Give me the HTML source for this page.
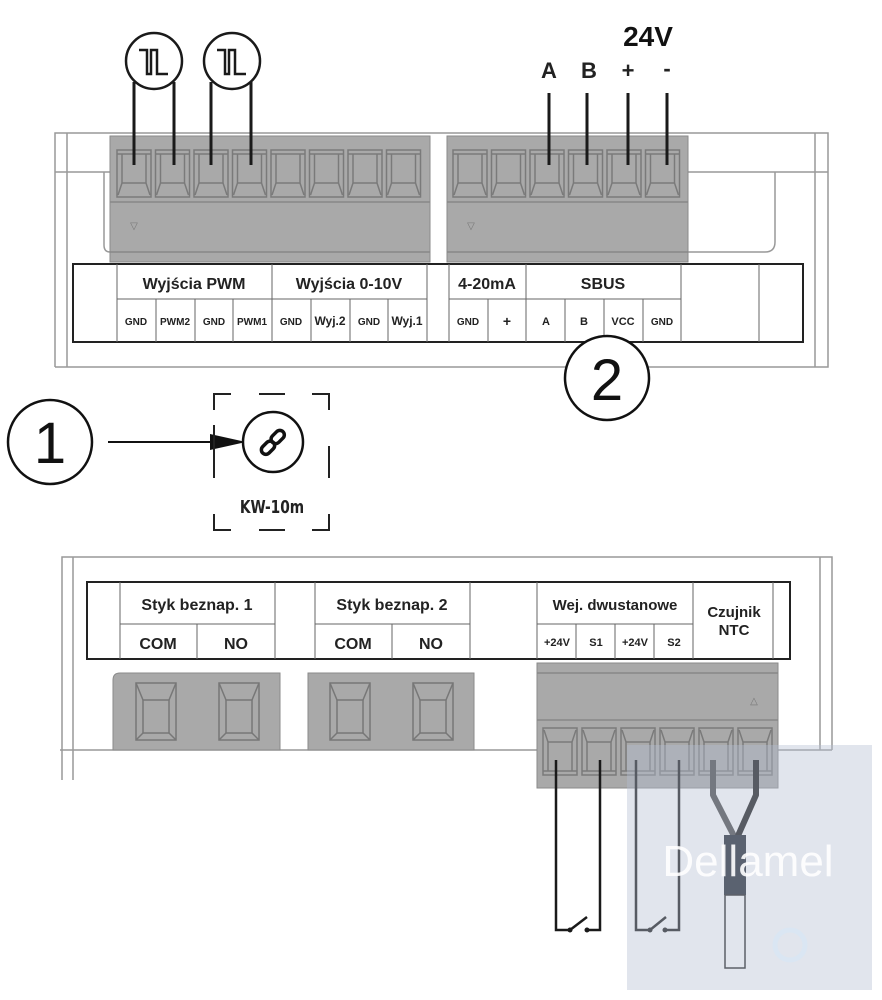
<!DOCTYPE html>
<html><head><meta charset="utf-8"><style>
body{margin:0;background:#fff;}
svg{display:block;}
text{font-family:"Liberation Sans",sans-serif;font-weight:bold;fill:#222;}
</style></head><body>
<svg width="882" height="1000" viewBox="0 0 882 1000" xmlns="http://www.w3.org/2000/svg">
<defs>
<g id="cell" fill="none" stroke="#7a7a7a" stroke-width="1.5">
<rect x="0" y="0" width="34" height="47"/>
<line x1="0" y1="4" x2="34" y2="4"/>
<line x1="5" y1="4" x2="5" y2="33"/><line x1="29" y1="4" x2="29" y2="33"/>
<line x1="5" y1="33" x2="29" y2="33"/>
<polyline points="5,33 1,45"/><polyline points="29,33 33,45"/>
</g>
<g id="relay" fill="none" stroke="#777" stroke-width="1.5">
<rect x="0" y="0" width="40" height="57"/>
<rect x="7" y="17" width="26" height="33"/>
<line x1="0" y1="0" x2="7" y2="17"/><line x1="40" y1="0" x2="33" y2="17"/>
<line x1="0" y1="57" x2="7" y2="50"/><line x1="40" y1="57" x2="33" y2="50"/>
</g>
</defs>

<!-- TOP HOUSING -->
<g fill="none" stroke="#999" stroke-width="1.5">
<path d="M55,367 V133 H828 V367 H55"/>
<line x1="67" y1="133" x2="67" y2="367"/>
<line x1="815" y1="133" x2="815" y2="367"/>
<line x1="55" y1="172" x2="110" y2="172"/>
<line x1="688" y1="172" x2="828" y2="172"/>
<path d="M104,172 V245 Q104,252 110,252"/>
<path d="M775,172 V242 Q775,252 765,252 H688"/>
</g>
<rect x="110" y="136" width="320" height="126" fill="#a9a9a9" stroke="#8a8a8a"/>
<line x1="110" y1="202" x2="430" y2="202" stroke="#888" stroke-width="1.5"/>
<line x1="110" y1="252" x2="430" y2="252" stroke="#888" stroke-width="1.5"/>
<text x="134" y="229" font-size="10" text-anchor="middle" style="fill:#777;font-weight:normal">▽</text>
<use href="#cell" x="117" y="150"/><use href="#cell" x="155.5" y="150"/><use href="#cell" x="194" y="150"/><use href="#cell" x="232.5" y="150"/>
<use href="#cell" x="271" y="150"/><use href="#cell" x="309.5" y="150"/><use href="#cell" x="348" y="150"/><use href="#cell" x="386.5" y="150"/>
<rect x="447" y="136" width="241" height="126" fill="#a9a9a9" stroke="#8a8a8a"/>
<line x1="447" y1="202" x2="688" y2="202" stroke="#888" stroke-width="1.5"/>
<line x1="447" y1="252" x2="688" y2="252" stroke="#888" stroke-width="1.5"/>
<text x="471" y="229" font-size="10" text-anchor="middle" style="fill:#777;font-weight:normal">▽</text>
<use href="#cell" x="453" y="150"/><use href="#cell" x="491.5" y="150"/><use href="#cell" x="530" y="150"/><use href="#cell" x="568.5" y="150"/><use href="#cell" x="607" y="150"/><use href="#cell" x="645.5" y="150"/>

<rect x="73" y="264" width="730" height="78" fill="#fff" stroke="#222" stroke-width="2"/>
<g stroke="#666" stroke-width="1">
<line x1="117" y1="264" x2="117" y2="342"/><line x1="272" y1="264" x2="272" y2="342"/><line x1="427" y1="264" x2="427" y2="342"/>
<line x1="449" y1="264" x2="449" y2="342"/><line x1="526" y1="264" x2="526" y2="342"/><line x1="681" y1="264" x2="681" y2="342"/><line x1="759" y1="264" x2="759" y2="342"/>
<line x1="117" y1="299" x2="427" y2="299"/><line x1="449" y1="299" x2="681" y2="299"/>
<line x1="156" y1="299" x2="156" y2="342"/><line x1="195" y1="299" x2="195" y2="342"/><line x1="233" y1="299" x2="233" y2="342"/>
<line x1="311" y1="299" x2="311" y2="342"/><line x1="350" y1="299" x2="350" y2="342"/><line x1="388" y1="299" x2="388" y2="342"/>
<line x1="488" y1="299" x2="488" y2="342"/><line x1="565" y1="299" x2="565" y2="342"/><line x1="604" y1="299" x2="604" y2="342"/><line x1="643" y1="299" x2="643" y2="342"/>
</g>
<g font-size="16" text-anchor="middle">
<text x="194" y="289">Wyjścia PWM</text><text x="349" y="289">Wyjścia 0-10V</text>
<text x="487" y="289">4-20mA</text><text x="603" y="289">SBUS</text>
</g>
<g font-size="10" text-anchor="middle">
<text x="136" y="325">GND</text><text x="175" y="325">PWM2</text><text x="214" y="325">GND</text><text x="252" y="325">PWM1</text>
<text x="291" y="325">GND</text><text x="330" y="325" font-size="12">Wyj.2</text><text x="369" y="325">GND</text><text x="407" y="325" font-size="12">Wyj.1</text>
<text x="468" y="325">GND</text><text x="507" y="326" font-size="14">+</text><text x="546" y="325" font-size="11">A</text><text x="584" y="325" font-size="11">B</text>
<text x="623" y="325" font-size="11">VCC</text><text x="662" y="325">GND</text>
</g>

<g stroke="#1a1a1a" stroke-width="3">
<line x1="134" y1="82" x2="134" y2="165"/><line x1="174" y1="82" x2="174" y2="165"/>
<line x1="211" y1="82" x2="211" y2="165"/><line x1="251" y1="82" x2="251" y2="165"/>
<line x1="549" y1="93" x2="549" y2="165"/><line x1="587" y1="93" x2="587" y2="165"/>
<line x1="628" y1="93" x2="628" y2="165"/><line x1="667" y1="93" x2="667" y2="165"/>
</g>
<g fill="#fff" stroke="#1a1a1a" stroke-width="2.5">
<circle cx="154" cy="61" r="28"/><circle cx="232" cy="61" r="28"/>
</g>
<g fill="none" stroke="#1a1a1a" stroke-width="2.5">
<polyline points="139,50 147,50 147,74 151,74 151,50 157,50 157,74 168,74"/>
<polyline points="217,50 225,50 225,74 229,74 229,50 235,50 235,74 246,74"/>
</g>
<text x="648" y="46" font-size="28" text-anchor="middle" style="fill:#111">24V</text>
<g font-size="22" text-anchor="middle" style="fill:#111">
<text x="549" y="78">A</text><text x="589" y="78">B</text><text x="628" y="78">+</text><text x="667" y="76">-</text>
</g>

<circle cx="607" cy="378" r="42" fill="#fff" stroke="#111" stroke-width="2.5"/>
<text x="607" y="400" font-size="58" text-anchor="middle" style="font-weight:normal;fill:#111">2</text>

<circle cx="50" cy="442" r="42" fill="#fff" stroke="#111" stroke-width="2.5"/>
<text x="50" y="463" font-size="58" text-anchor="middle" style="font-weight:normal;fill:#111">1</text>
<line x1="108" y1="442" x2="222" y2="442" stroke="#111" stroke-width="2"/>
<polygon points="210,434 246,442 210,450" fill="#111"/>
<g stroke="#222" stroke-width="2" fill="none">
<path d="M214,410 V394 H231"/><line x1="259" y1="394" x2="285" y2="394"/><path d="M312,394 H329 V410"/>
<line x1="214" y1="425" x2="214" y2="478"/><line x1="329" y1="446" x2="329" y2="478"/>
<path d="M214,514 V530 H231"/><line x1="259" y1="530" x2="285" y2="530"/><path d="M312,530 H329 V514"/>
</g>
<circle cx="273" cy="442" r="30" fill="#fff" stroke="#111" stroke-width="2.5"/>
<g fill="none" stroke="#111" stroke-width="3.5" stroke-linecap="round">
<rect x="264" y="440" width="9" height="15" rx="4.5" transform="rotate(45 268 447)"/>
<rect x="273" y="429" width="9" height="15" rx="4.5" transform="rotate(45 277 437)"/>
</g>
<text x="272" y="513" font-size="18" text-anchor="middle" style="fill:#222;font-family:'DejaVu Sans Condensed','Liberation Sans Narrow',sans-serif" transform="scale(0.85 1) translate(48 0)">KW-10m</text>

<!-- BOTTOM HOUSING -->
<g fill="none" stroke="#999" stroke-width="1.5">
<path d="M62,780 V557 H832 V750"/>
<line x1="73" y1="557" x2="73" y2="780"/>
<line x1="820" y1="557" x2="820" y2="750"/>
<line x1="60" y1="750" x2="832" y2="750"/>
</g>
<rect x="87" y="582" width="703" height="77" fill="#fff" stroke="#222" stroke-width="2"/>
<g stroke="#666" stroke-width="1">
<line x1="120" y1="582" x2="120" y2="659"/><line x1="275" y1="582" x2="275" y2="659"/>
<line x1="315" y1="582" x2="315" y2="659"/><line x1="470" y1="582" x2="470" y2="659"/>
<line x1="537" y1="582" x2="537" y2="659"/><line x1="693" y1="582" x2="693" y2="659"/><line x1="773" y1="582" x2="773" y2="659"/>
<line x1="120" y1="624" x2="275" y2="624"/><line x1="315" y1="624" x2="470" y2="624"/><line x1="537" y1="624" x2="693" y2="624"/>
<line x1="197" y1="624" x2="197" y2="659"/><line x1="392" y1="624" x2="392" y2="659"/>
<line x1="576" y1="624" x2="576" y2="659"/><line x1="615" y1="624" x2="615" y2="659"/><line x1="654" y1="624" x2="654" y2="659"/>
</g>
<g font-size="16" text-anchor="middle">
<text x="197" y="610">Styk beznap. 1</text><text x="392" y="610">Styk beznap. 2</text>
<text x="158" y="649">COM</text><text x="236" y="649">NO</text><text x="353" y="649">COM</text><text x="431" y="649">NO</text>
<text x="615" y="610" font-size="15">Wej. dwustanowe</text>
<text x="734" y="617" font-size="15">Czujnik</text><text x="734" y="635" font-size="15">NTC</text>
</g>
<g font-size="11" text-anchor="middle">
<text x="557" y="646">+24V</text><text x="596" y="646">S1</text><text x="635" y="646">+24V</text><text x="674" y="646">S2</text>
</g>
<path d="M113,750 V680 Q113,673 120,673 H280 V750 Z" fill="#a9a9a9" stroke="#8a8a8a"/>
<rect x="308" y="673" width="166" height="77" fill="#a9a9a9" stroke="#8a8a8a"/>
<use href="#relay" x="136" y="683"/><use href="#relay" x="219" y="683"/>
<use href="#relay" x="330" y="683"/><use href="#relay" x="413" y="683"/>
<rect x="537" y="663" width="241" height="125" fill="#a9a9a9" stroke="#8a8a8a"/>
<line x1="537" y1="673" x2="778" y2="673" stroke="#888" stroke-width="1.5"/>
<line x1="537" y1="720" x2="778" y2="720" stroke="#888" stroke-width="1.5"/>
<text x="754" y="704" font-size="10" text-anchor="middle" style="fill:#777;font-weight:normal">△</text>
<g transform="translate(0,1502) scale(1,-1)">
<use href="#cell" x="543" y="727"/><use href="#cell" x="582" y="727"/><use href="#cell" x="621" y="727"/>
<use href="#cell" x="660" y="727"/><use href="#cell" x="699" y="727"/><use href="#cell" x="738" y="727"/>
</g>
<g stroke="#1a1a1a" stroke-width="2.5" fill="none">
<polyline points="556,760 556,930 570,930"/>
<polyline points="600,760 600,930 587,930"/>
<line x1="570" y1="930" x2="587" y2="917"/>
<polyline points="636,760 636,930 650,930"/>
<polyline points="679,760 679,930 666,930"/>
<line x1="650" y1="930" x2="666" y2="917"/>
</g>
<circle cx="570" cy="930" r="2.5" fill="#1a1a1a"/><circle cx="587" cy="930" r="2.5" fill="#1a1a1a"/>
<circle cx="650" cy="930" r="2.5" fill="#1a1a1a"/><circle cx="665" cy="930" r="2.5" fill="#1a1a1a"/>
<g fill="none" stroke-width="6" stroke-linejoin="round">
<polyline points="713,760 713,795 735,838" stroke="#4a4a4a"/>
<polyline points="756,760 756,795 737,838" stroke="#1a1a1a"/>
</g>
<rect x="724" y="835" width="22" height="60" fill="#1e2530"/>
<rect x="725" y="895" width="20" height="73" fill="#fff" stroke="#222" stroke-width="1.5"/>

<rect x="627" y="745" width="245" height="245" fill="#b4bed2" opacity="0.4"/>
<circle cx="790" cy="945" r="15" fill="none" stroke="#d8e6f4" stroke-width="5" opacity="0.8"/>
<text x="748" y="876" font-size="44" text-anchor="middle" style="fill:#fff;font-weight:normal;opacity:0.9">Dellamel</text>
</svg>
</body></html>
